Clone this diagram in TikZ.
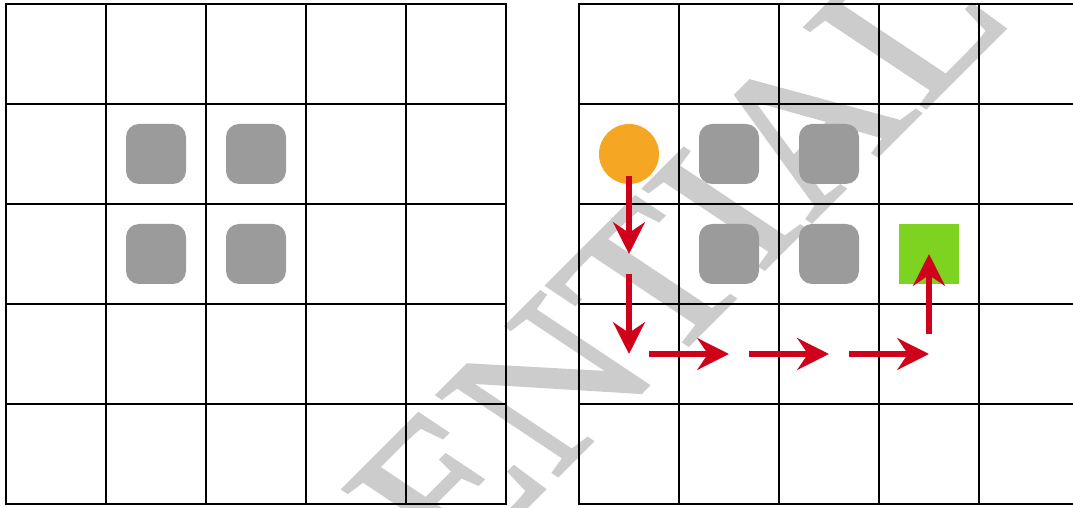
\documentclass[tikz,border=0pt]{standalone}
\usepackage{fontspec}
\newfontfamily\wmfont{Liberation Serif}
\usetikzlibrary{arrows.meta,calc}
\definecolor{wmgray}{HTML}{CCCCCC}
\definecolor{obstgray}{HTML}{9B9B9B}
\definecolor{agentorange}{HTML}{F5A623}
\definecolor{goalgreen}{HTML}{7ED321}
\definecolor{pathred}{HTML}{D0021B}
\newcommand{\wmthick}[1]{\special{pdf:literal direct 2 Tr 0.8 w}#1\special{pdf:literal direct 0 Tr}}
\begin{document}
\begin{tikzpicture}[
  gridline/.style={line width=0.6pt, black, line cap=rect},
  obstacle/.style={fill=obstgray, draw=none, minimum size=0.6cm, inner sep=0pt, rounded corners=3.7pt},
  agent/.style={circle, fill=agentorange, draw=none, minimum size=0.6cm, inner sep=0pt},
  goalbox/.style={rectangle, fill=goalgreen, draw=none, minimum size=0.6cm, inner sep=0pt},
  patharrow/.style={draw=pathred, line width=1.7pt, -{Stealth[length=9pt,width=9pt,inset=3pt]}},
  watermark/.style={text=wmgray, rotate=45, xslant=-0.2, anchor=base, inner sep=0pt, font=\wmfont\fontsize{62pt}{70pt}\selectfont}
]
\useasboundingbox (-0.06,-0.04) rectangle (10.67,5.04);
\clip (-0.06,-0.04) rectangle (10.67,5.04);
% watermark
\node[watermark] (wm) at (4.45,-0.79) {\wmthick{CONFIDENTIAL}};
% left grid
\foreach \i in {0,...,5} {
  \draw[gridline] (\i,0) -- (\i,5);
  \draw[gridline] (0,\i) -- (5,\i);
}
% right grid
\foreach \i in {0,...,5} {
  \draw[gridline] (5.73+\i,0) -- (5.73+\i,5);
  \draw[gridline] (5.73,\i) -- (10.73,\i);
}
% left obstacles
\node[obstacle] (la) at (1.5,3.5) {};
\node[obstacle] (lb) at (2.5,3.5) {};
\node[obstacle] (lc) at (1.5,2.5) {};
\node[obstacle] (ld) at (2.5,2.5) {};
% right obstacles
\node[obstacle] (ra) at (7.23,3.5) {};
\node[obstacle] (rb) at (8.23,3.5) {};
\node[obstacle] (rc) at (7.23,2.5) {};
\node[obstacle] (rd) at (8.23,2.5) {};
% agent and goal
\node[agent] (start) at (6.23,3.5) {};
\node[goalbox] (goal) at (9.23,2.5) {};
% path cells
\coordinate (p02) at (6.23,2.5);
\coordinate (p03) at (6.23,1.5);
\coordinate (p13) at (7.23,1.5);
\coordinate (p23) at (8.23,1.5);
\coordinate (p33) at (9.23,1.5);
% arrows
\draw[patharrow] ([yshift=-2.2mm]start.center) -- (p02);
\draw[patharrow] ([yshift=-2mm]p02) -- (p03);
\draw[patharrow] ([xshift=2mm]p03) -- (p13);
\draw[patharrow] ([xshift=2mm]p13) -- (p23);
\draw[patharrow] ([xshift=2mm]p23) -- (p33);
\draw[patharrow] ([yshift=2mm]p33) -- (goal.center);
\end{tikzpicture}
\end{document}
